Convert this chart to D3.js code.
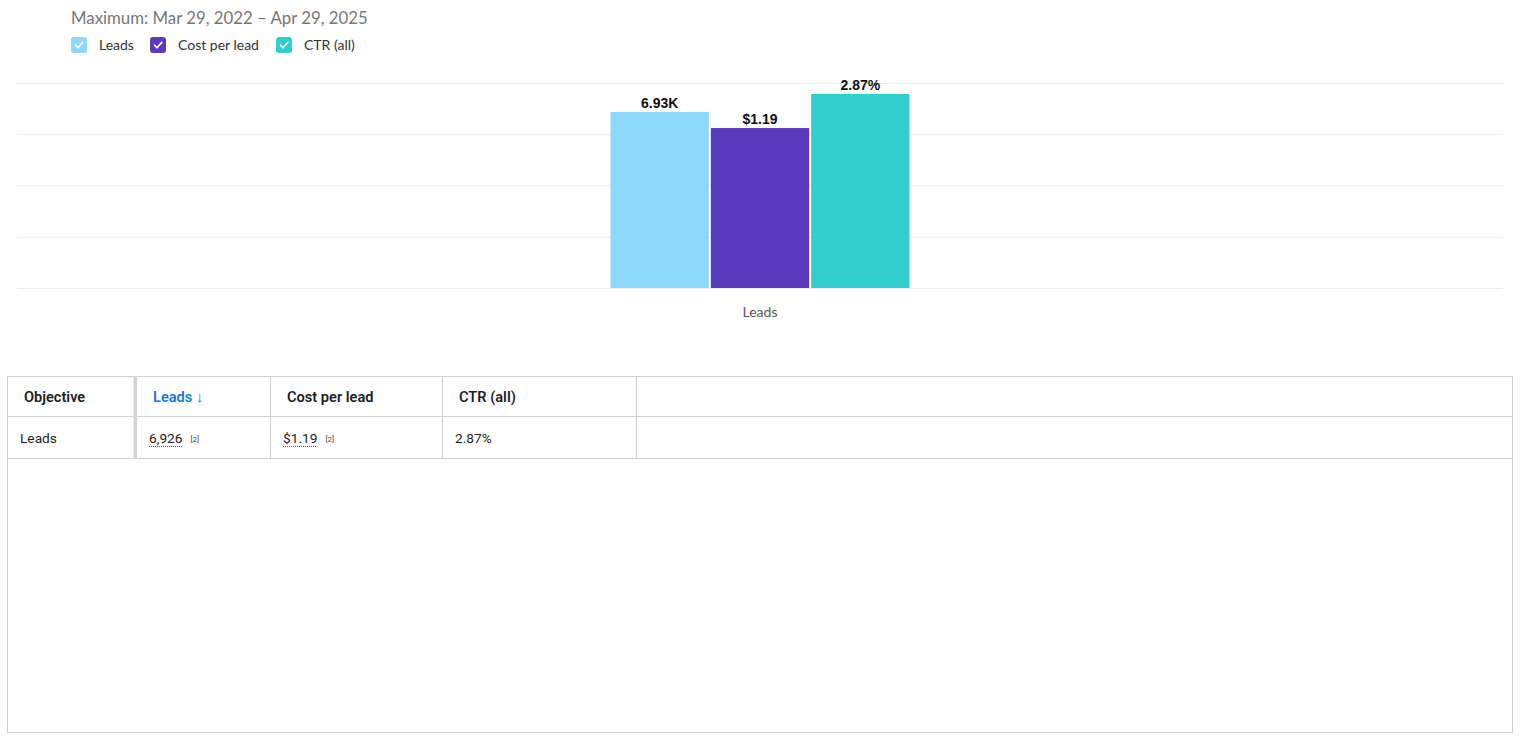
<!DOCTYPE html>
<html><head><meta charset="utf-8">
<script src="https://cdn.jsdelivr.net/npm/d3@7"></script>
<style>
body{margin:0;background:#fff;font-family:Lato,"Open Sans",sans-serif;}
svg{display:block;}
</style></head>
<body>
<svg id="chart" width="1523" height="743"></svg>
<script>
const title = "Maximum: Mar 29, 2022 – Apr 29, 2025";
const categories = ["Leads"];
const seriesNames = ["Leads", "Cost per lead", "CTR (all)"];
const seriesValues = [6926, 1.19, 2.87];
const seriesLabels = ["6.93K", "$1.19", "2.87%"];
const seriesColors = ["#8ed8fb", "#5b3bbd", "#32cdcd"];
const seriesMax = [8066, 1.525, 3.033];
const tableHeaders = ["Objective", "Leads ↓", "Cost per lead", "CTR (all)"];
const tableRow = ["Leads", "6,926", "$1.19", "2.87%"];
const tableNotes = ["", "[2]", "[2]", ""];

(function(){
const svg = d3.select("#chart");

// title
svg.append("text").attr("x", 71).attr("y", 24).text(title)
  .attr("font-family", "Lato, sans-serif").attr("font-size", 16.8).attr("fill", "#777");

// legend
const legendX = [71, 150, 276];
seriesNames.forEach((n, i) => {
  const g = svg.append("g").attr("transform", `translate(${legendX[i]},37)`);
  g.append("rect").attr("width", 16).attr("height", 16).attr("rx", 3).attr("fill", seriesColors[i]);
  g.append("path").attr("d", "M4.5 8.2 L7 10.8 L11.8 5.4").attr("fill", "none")
    .attr("stroke", "#fff").attr("stroke-width", 1.6).attr("stroke-linecap", "round").attr("stroke-linejoin", "round");
  g.append("text").attr("x", 28).attr("y", 13).text(n)
    .attr("font-family", "Lato, sans-serif").attr("font-size", 14).attr("fill", "#333");
});

// plot
const pL = 17, pR = 1503, pT = 83, pB = 288;
const x0 = d3.scaleBand().domain(categories).range([pL, pR]).paddingInner(0).paddingOuter(0);
const groupW = 299;
const x1 = d3.scaleBand().domain(seriesNames).range([0, groupW]).paddingInner(0.02).paddingOuter(0);
const yScales = seriesMax.map(m => d3.scaleLinear().domain([0, m]).range([pB, pT]));

// gridlines
const gridScale = d3.scaleLinear().domain([0, 4]).range([pB, pT]);
svg.append("g").selectAll("line").data(d3.range(5)).join("line")
  .attr("x1", pL).attr("x2", pR)
  .attr("y1", d => gridScale(d) + 0.5).attr("y2", d => gridScale(d) + 0.5)
  .attr("stroke", "#ebebeb").attr("stroke-width", 1);

categories.forEach(c => {
  const gx = x0(c) + x0.bandwidth() / 2 - groupW / 2;
  const g = svg.append("g").attr("transform", `translate(${gx},0)`);
  const data = seriesNames.map((n, i) => ({n, i, v: seriesValues[i]}));
  g.selectAll("rect").data(data).join("rect")
    .attr("x", d => x1(d.n)).attr("width", x1.bandwidth())
    .attr("y", d => yScales[d.i](d.v)).attr("height", d => pB - yScales[d.i](d.v))
    .attr("fill", d => seriesColors[d.i]);
  g.selectAll("text.lbl").data(data).join("text").attr("class", "lbl")
    .attr("x", d => x1(d.n) + x1.bandwidth() / 2).attr("y", d => yScales[d.i](d.v) - 4)
    .attr("text-anchor", "middle").attr("font-family", "Liberation Sans, Arial, sans-serif")
    .attr("font-weight", "bold").attr("font-size", 14).attr("fill", "#111").text(d => seriesLabels[d.i]);
  svg.append("text").attr("x", x0(c) + x0.bandwidth() / 2).attr("y", 317)
    .attr("text-anchor", "middle").attr("font-family", "Lato, sans-serif").attr("font-size", 14)
    .attr("fill", "#555").text(c);
});

// table
const tL = 7.5, tR = 1512.5, tT = 376.5, tH = 416.5, tRow = 458.5, tB = 732.5;
const colX = [tL, 135, 270.5, 442.5, 636.5];
const tf = "Roboto, 'Open Sans', sans-serif";
svg.append("rect").attr("x", tL).attr("y", tT).attr("width", tR - tL).attr("height", tB - tT)
  .attr("fill", "none").attr("stroke", "#d0d0d0");
[tH, tRow].forEach(y => svg.append("line").attr("x1", tL).attr("x2", tR).attr("y1", y).attr("y2", y).attr("stroke", "#d0d0d0"));
svg.append("rect").attr("x", 133.5).attr("y", tT).attr("width", 3.5).attr("height", tRow - tT).attr("fill", "#d5d5d5");
colX.slice(2).forEach(x => svg.append("line").attr("x1", x).attr("x2", x).attr("y1", tT).attr("y2", tRow).attr("stroke", "#d0d0d0"));

const headX = [24, 153, 287, 459];
tableHeaders.forEach((h, i) => {
  svg.append("text").attr("x", headX[i]).attr("y", 402).text(h)
    .attr("font-family", tf).attr("font-size", 14.6).attr("font-weight", 600)
    .attr("fill", i === 1 ? "#1a78d6" : "#1c1e21");
});
const rowX = [20, 149, 283, 455];
tableRow.forEach((v, i) => {
  const t = svg.append("text").attr("x", rowX[i]).attr("y", 443).text(v)
    .attr("font-family", tf).attr("font-size", 13.7).attr("fill", "#1c1e21");
  if (tableNotes[i]) {
    const w = t.node().getComputedTextLength();
    svg.append("line").attr("x1", rowX[i]).attr("x2", rowX[i] + w).attr("y1", 446.5).attr("y2", 446.5)
      .attr("stroke", "#555").attr("stroke-dasharray", "1,1");
    svg.append("text").attr("x", rowX[i] + w + 8).attr("y", 442).text(tableNotes[i])
      .attr("font-family", tf).attr("font-size", 8).attr("fill", "#444");
  }
});
})();
</script>
</body></html>
